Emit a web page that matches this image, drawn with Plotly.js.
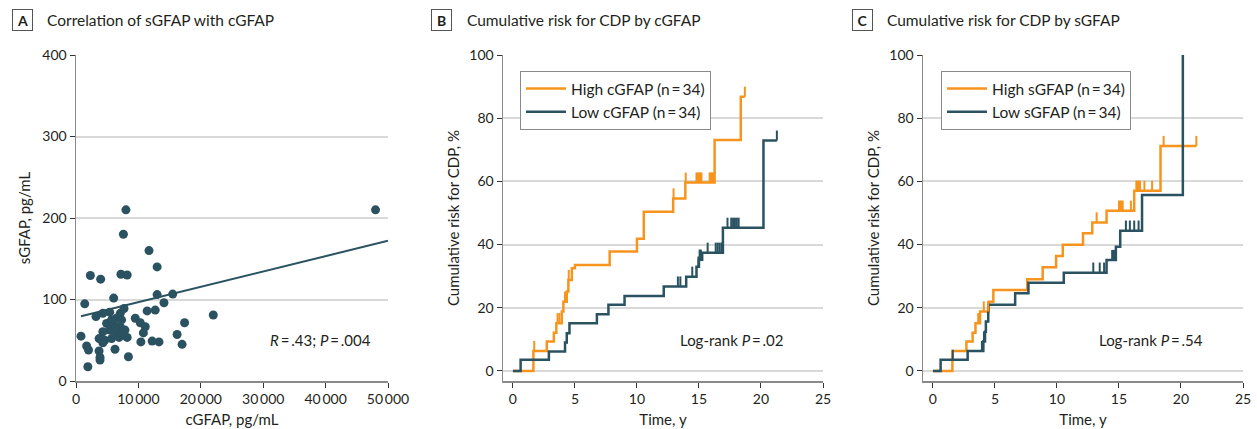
<!DOCTYPE html>
<html>
<head>
<meta charset="utf-8">
<script src="https://cdn.plot.ly/plotly-3.0.1.min.js"></script>
<style>html,body{margin:0;padding:0;background:#fff;}#chart{width:1257px;height:429px;}</style>
</head>
<body>
<div id="chart"></div>
<script>
// ---------- Panel A data ----------
const cgfap = [8000,7600,11700,13000,2300,3950,7200,8200,48000,22000,
  6040,13000,15500,1400,14100,11400,12700,3200,4300,5400,7100,7700,6500,9500,10300,17400,11100,4900,6000,7100,
  7850,4300,5400,6500,10800,800,3700,4600,5700,6900,8200,16200,4300,10400,12200,13300,17000,1700,2000,6250,
  3700,3850,3850,8400,1900,5700,7300,6250,7300];
const sgfap = [210,180,160,140,129.5,125,131,130,210,81,
  101.7,106,106.6,94.7,96,86,87,79,83,84.5,83,89,77,77,71.5,71.5,66.5,70.7,70.7,66.5,
  62.5,60.4,62.5,58.4,59,55,52,50,52,53.5,53.5,57,47,48,49,48,45,43,38,39,
  36.8,29,25.7,29.8,17.5,75,75,64.5,56];
const fitIntercept = 78;      // pg/mL
const fitSlope = 0.00188;     // per pg/mL
const xTicksA = [0,10000,20000,30000,40000,50000];
const xTickTextA = ['0','10\u2009000','20\u2009000','30\u2009000','40\u2009000','50\u2009000'];

// ---------- Panel B data (cGFAP) ----------
const bHighT = [0,1.65,2.73,3.3,3.5,3.94,4.07,4.34,4.47,4.75,5.0,7.8,10.0,10.55,12.92,13.9,16.26,18.37,18.7];
const bHighV = [0,6.3,9.3,12.1,15.1,18.8,21.9,25.1,28.8,32.5,33.5,37.8,41.8,50.4,54.6,59.6,73.1,86.8,86.8];
const bHighCens = [1.72,3.6,3.75,4.2,4.5,12.95,13.93,14.8,14.9,15.0,15.1,15.2,15.86,15.95,16.05,16.15,18.7];
const bLowT = [0,0.62,2.9,4.2,4.34,4.56,6.77,7.7,9.0,12.16,13.97,14.8,15.0,15.26,16.93,20.2,21.28];
const bLowV = [0,3.5,6.1,9.0,11.9,15.1,17.9,20.9,23.7,26.7,29.8,33.0,35.2,37.4,45.3,72.9,72.9];
const bLowCens = [13.3,13.5,14.46,14.95,15.05,15.15,15.7,16.35,16.5,16.65,16.8,16.9,17.3,17.6,17.75,17.9,18.05,18.2,21.28];

// ---------- Panel C data (sGFAP) ----------
const cHighT = [0,1.57,2.7,3.2,3.43,3.8,4.5,4.87,7.6,8.85,9.93,10.47,12.1,12.85,14.0,16.23,18.35,21.24];
const cHighV = [0,6.3,9.3,12.1,15.1,18.8,21.9,25.6,29.0,32.8,36.4,39.9,43.6,47.0,50.7,57.0,71.2,71.2];
const cHighCens = [3.65,3.75,4.1,4.45,13.2,15.0,15.1,15.2,15.3,15.96,16.4,16.5,16.6,16.7,17.05,17.67,18.6,21.24];
const cLowT = [0,0.62,2.8,4.06,4.2,4.27,4.46,6.63,7.7,10.55,14.0,14.75,15.1,16.86,20.15];
const cLowV = [0,3.5,6.3,9.3,12.4,15.6,20.9,24.6,27.9,31.1,35.1,39.3,44.4,55.7,100];
const cLowCens = [1.6,3.95,4.05,4.12,12.93,13.45,13.8,14.45,14.55,14.65,15.56,15.88,16.23,16.58];

const yTicksKM = [0,20,40,60,80,100];
const xTicksKM = [0,5,10,15,20,25];

// ---------- styles ----------
const ORANGE = '#F7941D';
const TEAL = '#2B5261';
const GRID = '#d9d9d9';
const AXIS = '#8a8a8a';
const FONT = 'Lato, "Open Sans", sans-serif';
const TXT = '#231f20';
const CENSOR_H = 3.2;

function stepVal(ts, vs, t){ let v = vs[0]; for (let i=0;i<ts.length;i++){ if (ts[i] <= t) v = vs[i]; } return v; }
function censorTrace(cs, ts, vs, color, xa, ya){
  const x=[], y=[];
  cs.forEach(c => { const v = stepVal(ts, vs, c - 1e-6); x.push(c,c,null); y.push(v, v + CENSOR_H, null); });
  return {x, y, xaxis:xa, yaxis:ya, mode:'lines', line:{color, width:2}, showlegend:false, hoverinfo:'skip'};
}
function kmTrace(ts, vs, color, name, xa, ya, legend){
  return {x:ts, y:vs, xaxis:xa, yaxis:ya, mode:'lines', line:{shape:'hv', color, width:2.5}, name, legend, showlegend:true};
}

const fitX0 = Math.min(...cgfap), fitX1 = xTicksA[xTicksA.length-1];
const traces = [
  {x:cgfap, y:sgfap, xaxis:'x', yaxis:'y', mode:'markers', marker:{color:TEAL, size:9}, showlegend:false},
  {x:[fitX0, fitX1], y:[fitIntercept + fitSlope*fitX0, fitIntercept + fitSlope*fitX1], xaxis:'x', yaxis:'y', mode:'lines', line:{color:TEAL, width:2}, showlegend:false},

  kmTrace(bHighT, bHighV, ORANGE, 'High cGFAP (n\u2009=\u200934)', 'x2','y2','legend'),
  kmTrace(bLowT, bLowV, TEAL, 'Low cGFAP (n\u2009=\u200934)', 'x2','y2','legend'),
  censorTrace(bHighCens, bHighT, bHighV, ORANGE, 'x2','y2'),
  censorTrace(bLowCens, bLowT, bLowV, TEAL, 'x2','y2'),

  kmTrace(cHighT, cHighV, ORANGE, 'High sGFAP (n\u2009=\u200934)', 'x3','y3','legend2'),
  kmTrace(cLowT, cLowV, TEAL, 'Low sGFAP (n\u2009=\u200934)', 'x3','y3','legend2'),
  censorTrace(cHighCens, cHighT, cHighV, ORANGE, 'x3','y3'),
  censorTrace(cLowCens, cLowT, cLowV, TEAL, 'x3','y3'),
];

const W = 1257, H = 429;
const px = v => v / W;
const py = v => 1 - v / H;

const axisBase = {showline:true, linecolor:AXIS, linewidth:1.5, ticks:'outside', ticklen:5, tickwidth:1, tickcolor:'#333',
  tickfont:{family:FONT, size:14, color:TXT}, zeroline:false, fixedrange:true};
const yDom = [py(381), py(55)];

const legendBase = {xanchor:'left', yanchor:'top', bordercolor:'#8a8a8a', borderwidth:1, bgcolor:'#fff',
  font:{family:FONT, size:15.5, color:TXT}, tracegroupgap:0, itemwidth:40};

function panelLabel(letter, cx){
  return {xref:'paper', yref:'paper', x:px(cx), y:py(20), xanchor:'center', yanchor:'middle', text:letter, showarrow:false,
    font:{family:FONT, size:14, color:TXT, weight:700}, bordercolor:'#555', borderwidth:1, borderpad:2, width:15, height:16};
}
function panelTitle(text, lx){
  return {xref:'paper', yref:'paper', x:px(lx), y:py(20), xanchor:'left', yanchor:'middle', text, showarrow:false,
    font:{family:FONT, size:15.5, color:TXT}};
}

const layout = {
  width:W, height:H, margin:{l:0,r:0,t:0,b:0}, paper_bgcolor:'#fff', plot_bgcolor:'#fff',
  font:{family:FONT, color:TXT},
  xaxis: Object.assign({}, axisBase, {domain:[px(76), px(388)], range:[0,50000], tickvals:xTicksA, ticktext:xTickTextA, showgrid:false, anchor:'y',
    title:{text:'cGFAP, pg/mL', font:{family:FONT, size:15, color:TXT}, standoff:8}}),
  yaxis: Object.assign({}, axisBase, {domain:yDom, range:[0,400], tickvals:[0,100,200,300,400], showgrid:true, gridcolor:GRID, gridwidth:2, anchor:'x',
    title:{text:'sGFAP, pg/mL', font:{family:FONT, size:15, color:TXT}, standoff:8}}),
  xaxis2: Object.assign({}, axisBase, {domain:[px(503), px(823)], range:[-0.8,25], tickvals:xTicksKM, showgrid:false, anchor:'y2',
    title:{text:'Time, y', font:{family:FONT, size:15, color:TXT}, standoff:8}}),
  yaxis2: Object.assign({}, axisBase, {domain:yDom, range:[-3.2,100], tickvals:yTicksKM, showgrid:true, gridcolor:GRID, gridwidth:2, anchor:'x2',
    title:{text:'Cumulative risk for CDP, %', font:{family:FONT, size:15, color:TXT}, standoff:6}}),
  xaxis3: Object.assign({}, axisBase, {domain:[px(923), px(1243)], range:[-0.8,25], tickvals:xTicksKM, showgrid:false, anchor:'y3',
    title:{text:'Time, y', font:{family:FONT, size:15, color:TXT}, standoff:8}}),
  yaxis3: Object.assign({}, axisBase, {domain:yDom, range:[-3.2,100], tickvals:yTicksKM, showgrid:true, gridcolor:GRID, gridwidth:2, anchor:'x3',
    title:{text:'Cumulative risk for CDP, %', font:{family:FONT, size:15, color:TXT}, standoff:6}}),
  legend: Object.assign({}, legendBase, {x:px(520), y:py(71)}),
  legend2: Object.assign({}, legendBase, {x:px(941), y:py(71)}),
  showlegend:true,
  annotations: [
    panelLabel('A', 22), panelTitle('Correlation of sGFAP with cGFAP', 45),
    panelLabel('B', 442), panelTitle('Cumulative risk for CDP by cGFAP', 465),
    panelLabel('C', 862), panelTitle('Cumulative risk for CDP by sGFAP', 885),
    {xref:'x', yref:'y', x:47600, y:50, xanchor:'right', text:'<i>R</i>\u2009=\u2009.43; <i>P</i>\u2009=\u2009.004', showarrow:false, font:{family:FONT, size:15, color:TXT}},
    {xref:'x2', yref:'y2', x:21.9, y:9.8, xanchor:'right', text:'Log-rank <i>P</i>\u2009=\u2009.02', showarrow:false, font:{family:FONT, size:15, color:TXT}},
    {xref:'x3', yref:'y3', x:21.97, y:9.8, xanchor:'right', text:'Log-rank <i>P</i>\u2009=\u2009.54', showarrow:false, font:{family:FONT, size:15, color:TXT}},
  ]
};

Plotly.newPlot('chart', traces, layout, {displayModeBar:false, staticPlot:true});
</script>
</body>
</html>
